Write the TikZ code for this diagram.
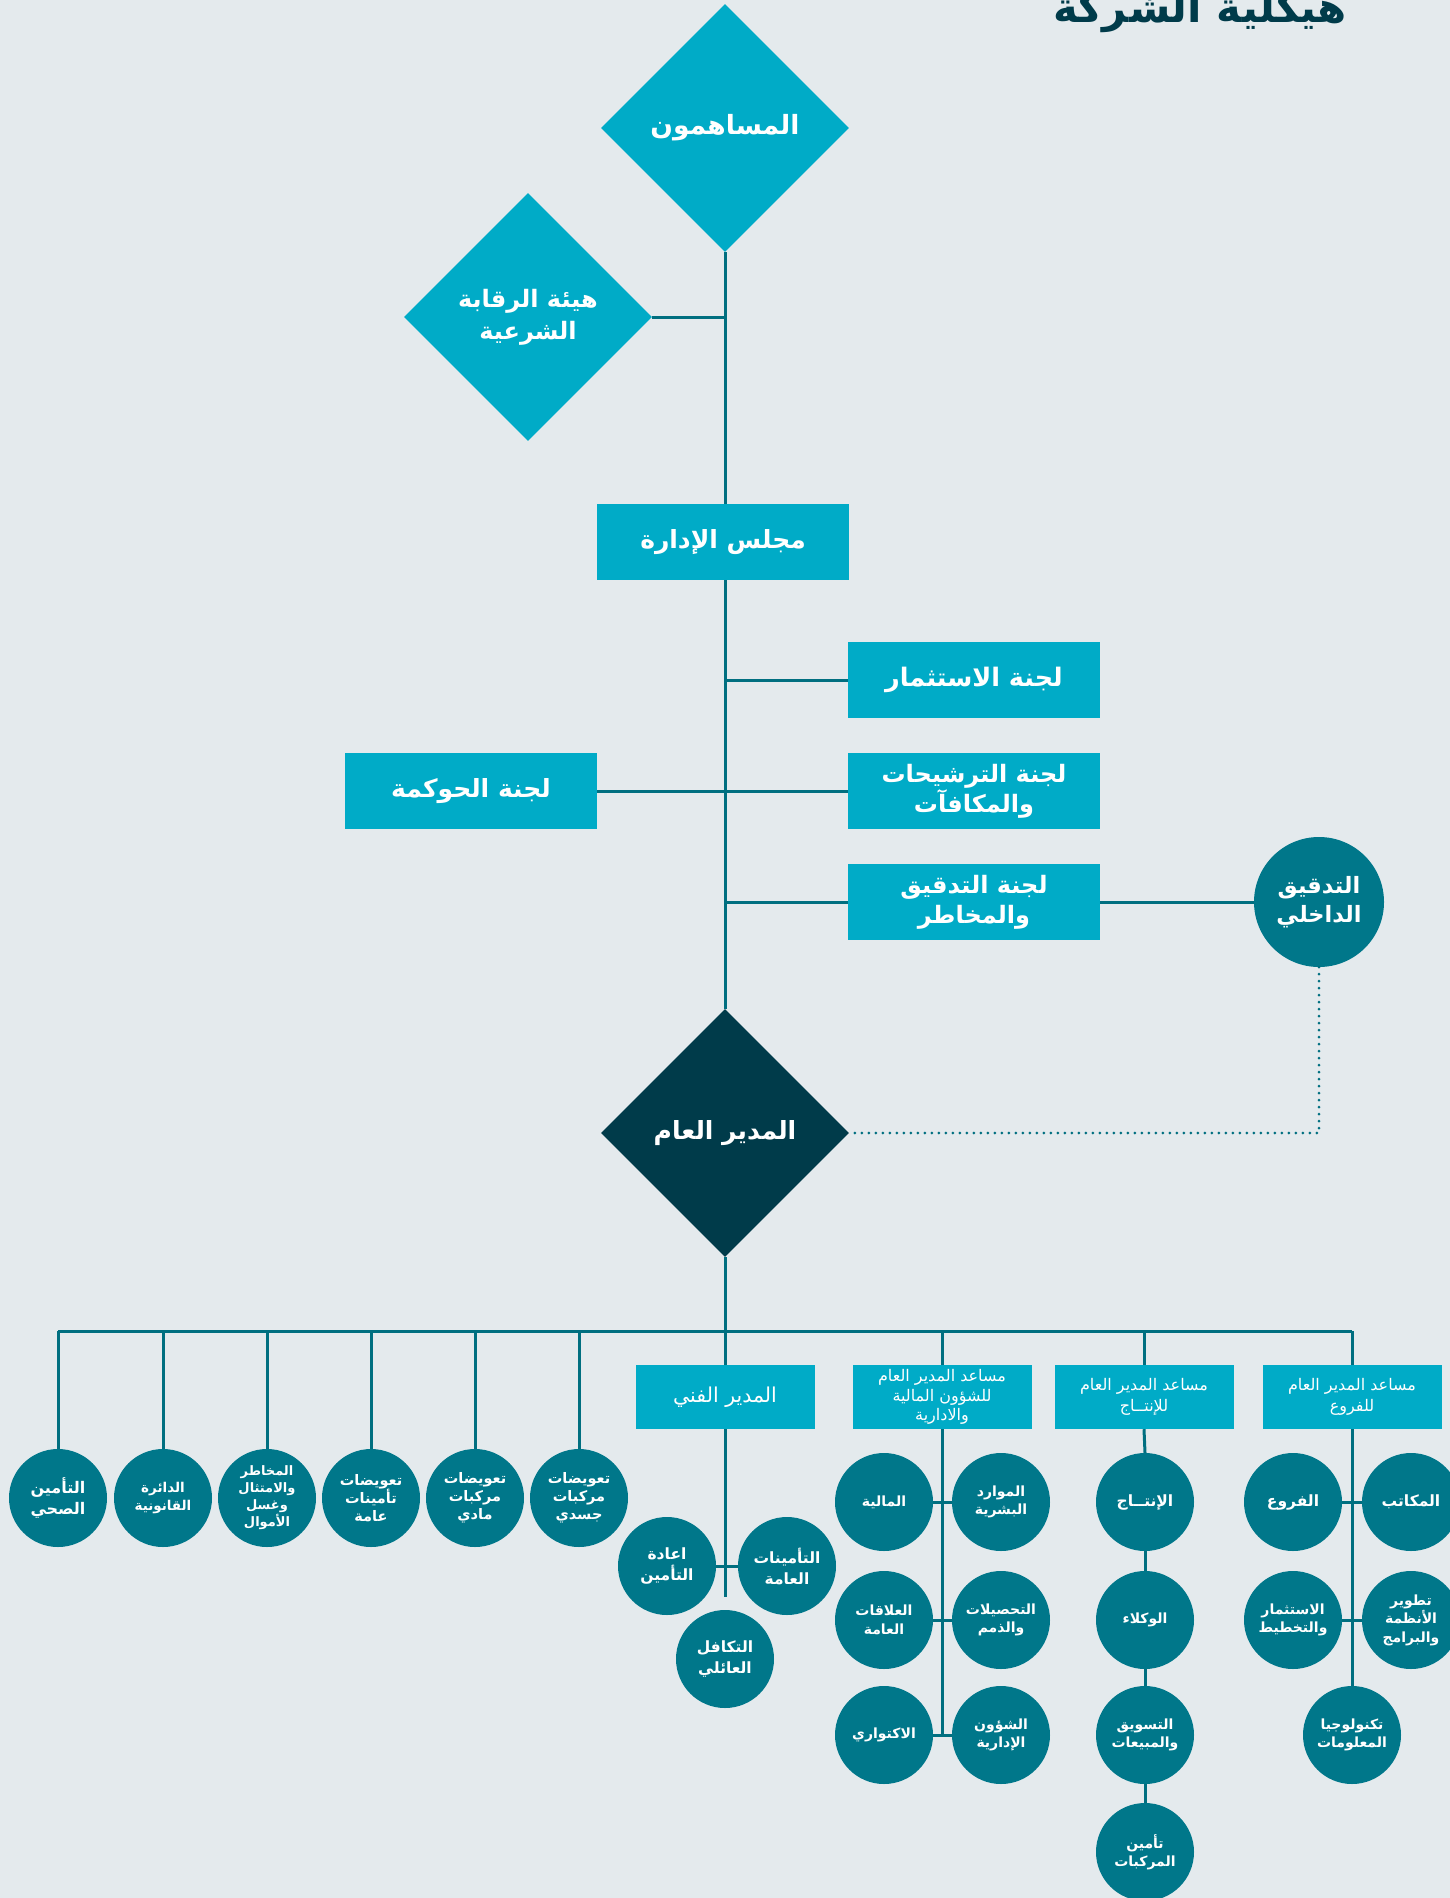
\documentclass[tikz,border=0pt]{standalone}
\usepackage{fontspec}
\usetikzlibrary{shapes.geometric}
\TeXXeTstate=1
\newfontfamily\arf[Script=Arabic]{DejaVu Sans}
\newcommand\AR[1]{\beginR #1\endR}
\definecolor{cyanbox}{HTML}{00ABC7}
\definecolor{tealc}{HTML}{00778A}
\definecolor{linec}{HTML}{006F80}
\definecolor{darkd}{HTML}{003B4A}
\definecolor{bgc}{HTML}{E4EAED}
\tikzset{
  diam/.style={diamond, aspect=1, minimum size=248pt, inner sep=0pt, fill=cyanbox, text=white,
    font=\arf\bfseries\fontsize{24}{32}\selectfont, align=center},
  topbox/.style={rectangle, minimum width=252pt, minimum height=76pt, inner sep=0pt, fill=cyanbox,
    text=white, font=\arf\bfseries\fontsize{24}{30}\selectfont, align=center},
  subbox/.style={rectangle, minimum width=179pt, minimum height=64pt, inner sep=0pt, fill=cyanbox,
    text=white, font=\arf\fontsize{16}{19.5}\selectfont, align=center},
  circ/.style={circle, minimum size=98pt, inner sep=0pt, fill=tealc, text=white,
    font=\arf\bfseries\fontsize{14}{18.5}\selectfont, align=center},
  conn/.style={draw=linec, line width=3pt},
  dotconn/.style={draw=linec, line width=3pt, line cap=round, dash pattern=on 0pt off 7pt}
}
\begin{document}
\begin{tikzpicture}[x=1pt,y=-1pt]
\useasboundingbox (0,0) rectangle (1450,1898);
\fill[bgc] (0,0) rectangle (1450,1898);

% title
\node[anchor=base, text=darkd, font=\arf\bfseries\fontsize{42}{48}\selectfont] (title) at (1200,22) {\AR{هيكلية الشركة}};

% top level
\node[diam, font=\arf\bfseries\fontsize{26.5}{32}\selectfont] (sh) at (725,128) {\AR{المساهمون}};
\node[diam] (sb) at (528,317) {\AR{هيئة الرقابة}\\\AR{الشرعية}};
\node[topbox, font=\arf\bfseries\fontsize{25}{30}\selectfont] (bd) at (723,542) {\AR{مجلس الإدارة}};
\node[topbox, font=\arf\bfseries\fontsize{25.5}{30}\selectfont] (inv) at (974,680) {\AR{لجنة الاستثمار}};
\node[topbox] (nom) at (974,791) {\AR{لجنة الترشيحات}\\\AR{والمكافآت}};
\node[topbox, font=\arf\bfseries\fontsize{25}{30}\selectfont] (gov) at (471,791) {\AR{لجنة الحوكمة}};
\node[topbox] (aud) at (974,902) {\AR{لجنة التدقيق}\\\AR{والمخاطر}};
\node[circ, minimum size=130pt, font=\arf\bfseries\fontsize{22.5}{29}\selectfont] (ia) at (1319,902) {\AR{التدقيق}\\\AR{الداخلي}};
\node[diam, fill=darkd, font=\arf\bfseries\fontsize{25}{32}\selectfont] (gm) at (725,1133) {\AR{المدير العام}};

\draw[conn] (sh.south) -- (sh.south |- bd.north);
\draw[conn] (sb.east) -- (sb.east -| sh.south);
\draw[conn] (sh.south |- bd.south) -- (gm.north);
\draw[conn] (inv.west) -- (inv.west -| gm.north);
\draw[conn] (gov.east) -- (nom.west);
\draw[conn] (aud.west) -- (aud.west -| gm.north);
\draw[conn] (aud.east) -- (ia.west);
\draw[dotconn] (ia.south) |- (gm.east);

% second level
\coordinate (bus) at (0,1331);
\node[subbox, font=\arf\fontsize{20.5}{24}\selectfont] (td) at (725,1397) {\AR{المدير الفني}};
\node[subbox] (fa) at (942,1397) {\AR{مساعد المدير العام}\\\AR{للشؤون المالية}\\\AR{والادارية}};
\node[subbox, font=\arf\fontsize{16}{21}\selectfont] (pr) at (1144,1397) {\AR{مساعد المدير العام}\\\AR{للإنتــاج}};
\node[subbox, font=\arf\fontsize{16}{21}\selectfont] (br) at (1352,1397) {\AR{مساعد المدير العام}\\\AR{للفروع}};

% left circles
\node[circ, font=\arf\bfseries\fontsize{16}{21}\selectfont] (l1) at (58,1498) {\AR{التأمين}\\\AR{الصحي}};
\node[circ, font=\arf\bfseries\fontsize{13.5}{18}\selectfont] (l2) at (163,1498) {\AR{الدائرة}\\\AR{القانونية}};
\node[circ, font=\arf\bfseries\fontsize{13}{17}\selectfont] (l3) at (267,1498) {\AR{المخاطر}\\\AR{والامتثال}\\\AR{وغسل}\\\AR{الأموال}};
\node[circ, font=\arf\bfseries\fontsize{14.5}{18}\selectfont] (l4) at (371,1498) {\AR{تعويضات}\\\AR{تأمينات}\\\AR{عامة}};
\node[circ, font=\arf\bfseries\fontsize{14.5}{18}\selectfont] (l5) at (475,1498) {\AR{تعويضات}\\\AR{مركبات}\\\AR{مادي}};
\node[circ, font=\arf\bfseries\fontsize{14.5}{18}\selectfont] (l6) at (579,1498) {\AR{تعويضات}\\\AR{مركبات}\\\AR{جسدي}};

\draw[conn] (gm.south) -- (gm.south |- bus);
\draw[conn] (l1.north |- bus) -- (br.north |- bus);
\foreach \n in {l1,l2,l3,l4,l5,l6,td,fa,pr,br}{
  \draw[conn] (\n.north) -- (\n.north |- bus);
}

% technical director
\node[circ, font=\arf\bfseries\fontsize{15.5}{21}\selectfont] (t1) at (667,1566) {\AR{اعادة}\\\AR{التأمين}};
\node[circ, font=\arf\bfseries\fontsize{15.5}{21}\selectfont] (t2) at (787,1566) {\AR{التأمينات}\\\AR{العامة}};
\node[circ, font=\arf\bfseries\fontsize{15.5}{21}\selectfont] (t3) at (725,1659) {\AR{التكافل}\\\AR{العائلي}};
\coordinate (tend) at (725,1597);
\draw[conn] (td.south) -- (tend);
\draw[conn] (t1.east) -- (t2.west);

% financial
\node[circ] (f1) at (884,1502) {\AR{المالية}};
\node[circ] (f2) at (1001,1502) {\AR{الموارد}\\\AR{البشرية}};
\node[circ] (f3) at (884,1620) {\AR{العلاقات}\\\AR{العامة}};
\node[circ] (f4) at (1001,1620) {\AR{التحصيلات}\\\AR{والذمم}};
\node[circ] (f5) at (884,1735) {\AR{الاكتواري}};
\node[circ] (f6) at (1001,1735) {\AR{الشؤون}\\\AR{الإدارية}};
\draw[conn] (fa.south) -- (fa.south |- f5.east);
\draw[conn] (f1.east) -- (f2.west);
\draw[conn] (f3.east) -- (f4.west);
\draw[conn] (f5.east) -- (f6.west);

% production
\node[circ, font=\arf\bfseries\fontsize{15.5}{18}\selectfont] (p1) at (1145,1502) {\AR{الإنتــاج}};
\node[circ] (p2) at (1145,1620) {\AR{الوكلاء}};
\node[circ] (p3) at (1145,1735) {\AR{التسويق}\\\AR{والمبيعات}};
\node[circ] (p4) at (1145,1852) {\AR{تأمين}\\\AR{المركبات}};
\draw[conn] (pr.south) -- (p1.north);
\draw[conn] (p1.south) -- (p2.north);
\draw[conn] (p2.south) -- (p3.north);
\draw[conn] (p3.south) -- (p4.north);

% branches
\node[circ, font=\arf\bfseries\fontsize{15.5}{20}\selectfont] (b1) at (1293,1502) {\AR{الفروع}};
\node[circ, font=\arf\bfseries\fontsize{15.5}{20}\selectfont] (b2) at (1411,1502) {\AR{المكاتب}};
\node[circ] (b3) at (1293,1620) {\AR{الاستثمار}\\\AR{والتخطيط}};
\node[circ] (b4) at (1411,1620) {\AR{تطوير}\\\AR{الأنظمة}\\\AR{والبرامج}};
\node[circ] (b5) at (1352,1735) {\AR{تكنولوجيا}\\\AR{المعلومات}};
\draw[conn] (br.south) -- (b5.north);
\draw[conn] (b1.east) -- (b2.west);
\draw[conn] (b3.east) -- (b4.west);
\end{tikzpicture}
\end{document}
